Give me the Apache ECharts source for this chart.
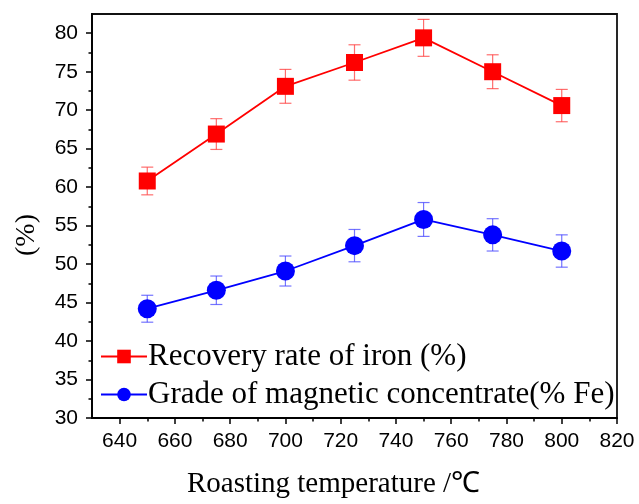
<!DOCTYPE html>
<html><head><meta charset="utf-8">
<script src="https://cdn.jsdelivr.net/npm/echarts@6/dist/echarts.min.js"></script>
<style>html,body{margin:0;padding:0;background:#fff}#c{width:639px;height:504px}</style>
</head><body><div id="c"></div>
<script>
var temps = [650, 675, 700, 725, 750, 775, 800];
var recovery = [60.8, 66.9, 73.1, 76.2, 79.4, 75.0, 70.6];
var recoveryErr = [1.8, 2.0, 2.2, 2.3, 2.4, 2.2, 2.1];
var grade = [44.2, 46.6, 49.1, 52.4, 55.8, 53.8, 51.7];
var gradeErr = [1.75, 1.85, 1.95, 2.1, 2.2, 2.1, 2.1];
var xMajor = [640, 660, 680, 700, 720, 740, 760, 780, 800, 820];
var xMinor = [650, 670, 690, 710, 730, 750, 770, 790, 810];
var yMajor = [30, 35, 40, 45, 50, 55, 60, 65, 70, 75, 80];
var yMinor = [32.5, 37.5, 42.5, 47.5, 52.5, 57.5, 62.5, 67.5, 72.5, 77.5];
var seriesNames = ['Recovery rate of iron (%)', 'Grade of magnetic concentrate(% Fe)'];

function pairs(xs, ys){ return xs.map(function(x,i){return [x, ys[i]];}); }
function errData(xs, ys, es){ return xs.map(function(x,i){return [x, ys[i]-es[i], ys[i]+es[i]];}); }
function errSeries(data, color){
  return {
    type:'custom', xAxisIndex:0, yAxisIndex:0, silent:true, z:1,
    data:data,
    renderItem:function(params, api){
      var x = api.value(0);
      var lo = api.coord([x, api.value(1)]);
      var hi = api.coord([x, api.value(2)]);
      var w = 6;
      var st = {stroke:color, lineWidth:1.2};
      return {type:'group', children:[
        {type:'line', shape:{x1:lo[0],y1:lo[1],x2:hi[0],y2:hi[1]}, style:st},
        {type:'line', shape:{x1:lo[0]-w,y1:lo[1],x2:lo[0]+w,y2:lo[1]}, style:st},
        {type:'line', shape:{x1:hi[0]-w,y1:hi[1],x2:hi[0]+w,y2:hi[1]}, style:st}
      ]};
    }
  };
}
var axisFont = {fontFamily:'Liberation Sans', fontSize:21, color:'#000'};
var chart = echarts.init(document.getElementById('c'));
chart.setOption({
  animation:false,
  backgroundColor:'#fff',
  grid:{left:92, right:22, top:14, bottom:82, show:true, borderColor:'#111', borderWidth:1.8, backgroundColor:'transparent'},
  xAxis:[
    {type:'value', min:630, max:820, name:'Roasting temperature /\u2103', nameLocation:'middle', nameGap:52,
     nameTextStyle:{fontFamily:'Liberation Serif', fontSize:29, color:'#000', padding:[0,42,0,0]},
     axisLine:{lineStyle:{color:'#000', width:1.8}},
     axisTick:{show:true, length:6, lineStyle:{color:'#000', width:1.5}, customValues:xMajor},
     axisLabel:Object.assign({margin:13, customValues:xMajor}, axisFont),
     splitLine:{show:false}},
    {type:'value', min:630, max:820, position:'bottom',
     axisLine:{show:false},
     axisTick:{show:true, length:3.5, lineStyle:{color:'#000', width:1.5}, customValues:xMinor},
     axisLabel:{show:false}, splitLine:{show:false}}
  ],
  yAxis:[
    {type:'value', min:30, max:82.5, name:'(%)', nameLocation:'middle', nameGap:51, nameRotate:90,
     nameTextStyle:{fontFamily:'Liberation Serif', fontSize:28, color:'#000', padding:[0,38,0,0]},
     axisLine:{show:true, lineStyle:{color:'#000', width:1.8}},
     axisTick:{show:true, length:6, lineStyle:{color:'#000', width:1.5}, customValues:yMajor},
     axisLabel:Object.assign({margin:14, customValues:yMajor}, axisFont),
     splitLine:{show:false}},
    {type:'value', min:30, max:82.5, position:'left',
     axisLine:{show:false},
     axisTick:{show:true, length:3.5, lineStyle:{color:'#000', width:1.5}, customValues:yMinor},
     axisLabel:{show:false}, splitLine:{show:false}}
  ],
  legend:{
    orient:'vertical', left:95, top:336, itemGap:7, itemWidth:46, itemHeight:17,
    data:seriesNames,
    textStyle:{fontFamily:'Liberation Serif', fontSize:31, color:'#000', padding:[0,0,0,-4]}
  },
  series:[
    errSeries(errData(temps, recovery, recoveryErr), 'rgba(255,60,60,0.75)'),
    errSeries(errData(temps, grade, gradeErr), 'rgba(70,70,255,0.75)'),
    {name:seriesNames[0], type:'line', data:pairs(temps, recovery), symbol:'rect', symbolSize:17,
     lineStyle:{color:'#ff0000', width:1.8}, itemStyle:{color:'#ff0000'}, z:3},
    {name:seriesNames[1], type:'line', data:pairs(temps, grade), symbol:'circle', symbolSize:19,
     lineStyle:{color:'#0000ff', width:1.8}, itemStyle:{color:'#0000ff'}, z:3}
  ]
});
</script></body></html>
